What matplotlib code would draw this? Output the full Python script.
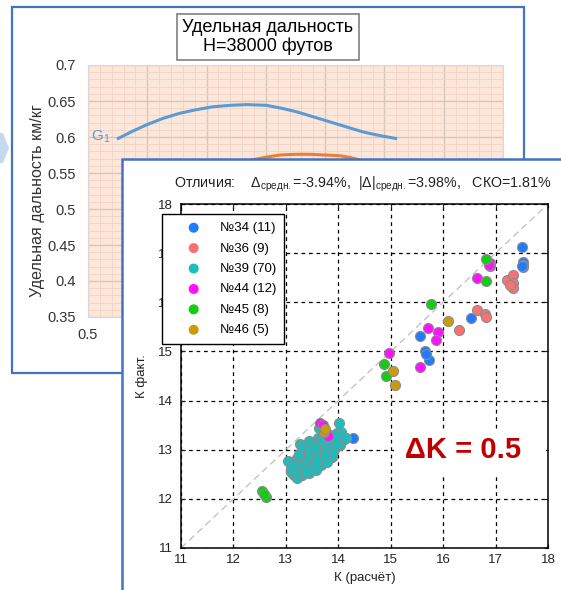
import numpy as np
import matplotlib
matplotlib.use('Agg')
import matplotlib.pyplot as plt
from matplotlib.patches import Rectangle, Polygon

plt.rcParams['font.family'] = ['Liberation Sans', 'DejaVu Sans']
plt.rcParams['mathtext.fontset'] = 'custom'
plt.rcParams['mathtext.rm'] = 'Liberation Sans'
plt.rcParams['mathtext.it'] = 'Liberation Sans:italic'
plt.rcParams['mathtext.bf'] = 'Liberation Sans:bold'

# back chart: specific range curves
g1_x = [0.551, 0.575, 0.599, 0.627, 0.655, 0.683, 0.711, 0.740, 0.768, 0.801,
        0.826, 0.852, 0.880, 0.908, 0.936, 0.964, 0.992, 1.019]
g1_y = [0.598, 0.608, 0.617, 0.626, 0.633, 0.638, 0.642, 0.644, 0.645, 0.644,
        0.640, 0.635, 0.628, 0.621, 0.614, 0.607, 0.602, 0.598]
g2_x = [0.776, 0.800, 0.824, 0.850, 0.874, 0.900, 0.925, 0.945, 0.959]
g2_y = [0.568, 0.572, 0.575, 0.576, 0.576, 0.575, 0.574, 0.571, 0.568]

# front chart: K calculated vs K actual
n34_x = [17.51, 17.53, 17.53, 17.52, 16.53, 15.55, 15.66, 15.73, 15.68, 14.28, 17.50]
n34_y = [17.12, 16.81, 16.71, 16.76, 15.69, 15.32, 15.00, 14.83, 14.95, 13.23, 16.74]
n36_x = [17.22, 17.33, 17.34, 17.33, 17.28, 16.65, 16.79, 16.82, 16.31]
n36_y = [16.46, 16.56, 16.40, 16.29, 16.35, 15.85, 15.77, 15.70, 15.44]
n39_x = [14.01, 13.97, 14.09, 13.91, 13.76, 13.61, 13.45, 13.27, 13.52, 13.70,
         13.82, 13.94, 13.39, 13.58, 13.73, 13.88, 13.21, 13.12, 13.33, 13.52,
         13.67, 13.79, 13.09, 13.24, 13.42, 13.58, 13.15, 13.30, 13.45, 13.21,
         13.88, 14.03, 13.64, 13.76, 13.48, 13.36, 13.64, 13.58, 13.82, 13.70,
         14.06, 14.15, 13.05, 13.10, 13.18, 13.28, 13.35, 13.40, 13.47, 13.55,
         13.62, 13.66, 13.72, 13.78, 13.85, 13.90, 13.98, 13.26, 13.32, 13.44,
         13.50, 13.60, 13.38, 13.17, 13.12, 13.56, 13.75, 13.84, 13.68, 13.95]
n39_y = [13.54, 13.34, 13.20, 13.17, 13.10, 13.24, 13.17, 13.12, 13.00, 13.03,
         12.97, 13.03, 12.90, 12.86, 12.83, 12.86, 12.83, 12.76, 12.76, 12.73,
         12.69, 12.76, 12.63, 12.63, 12.63, 12.59, 12.49, 12.49, 12.52, 12.42,
         13.10, 13.10, 13.44, 13.34, 13.07, 13.00, 12.97, 13.14, 13.24, 13.20,
         13.37, 13.24, 12.78, 12.55, 12.70, 12.56, 12.68, 12.80, 12.86, 12.95,
         12.90, 13.08, 12.95, 13.02, 13.15, 12.95, 13.12, 12.92, 13.05, 13.00,
         12.62, 12.75, 12.55, 12.58, 12.66, 13.05, 12.88, 13.30, 13.38, 13.28]
n44_x = [16.90, 16.90, 16.88, 16.64, 15.72, 15.91, 15.87, 15.56, 14.97, 13.65, 13.81, 13.70]
n44_y = [16.80, 16.73, 16.76, 16.50, 15.47, 15.40, 15.23, 14.69, 14.97, 13.54, 13.27, 13.50]
n45_x = [16.82, 16.81, 15.77, 14.87, 14.91, 12.54, 12.62, 12.58]
n45_y = [16.89, 16.43, 15.97, 14.74, 14.51, 12.15, 12.04, 12.10]
n46_x = [16.10, 15.05, 15.08, 13.72, 13.75]
n46_y = [15.61, 14.61, 14.31, 13.37, 13.42]

groups = [('№34 (11)', n34_x, n34_y, '#1f7bff'),
          ('№36 (9)', n36_x, n36_y, '#f87272'),
          ('№39 (70)', n39_x, n39_y, '#19bfbf'),
          ('№44 (12)', n44_x, n44_y, '#ff10ff'),
          ('№45 (8)', n45_x, n45_y, '#14cc14'),
          ('№46 (5)', n46_x, n46_y, '#cc9a0a')]

W, H = 561, 590
fig = plt.figure(figsize=(W / 100, H / 100), dpi=100)
fig.patch.set_facecolor('white')

def frac(l, t, r, b):
    return [l / W, 1 - b / H, (r - l) / W, (b - t) / H]

# back window + chevron
bg = fig.add_axes([0, 0, 1, 1], zorder=0)
bg.set_xlim(0, W)
bg.set_ylim(H, 0)
bg.axis('off')
bg.add_patch(Rectangle((12, 7), 512, 366, facecolor='white', edgecolor='#4472c4', lw=1.6))
bg.add_patch(Polygon([(0, 133), (3, 133), (9, 148), (3, 163), (0, 163)],
                     facecolor='#c5daf0', edgecolor='none'))

# back chart
axb = fig.add_axes(frac(88, 65, 503, 317), zorder=1)
axb.set_facecolor('#fde7da')
axb.set_xlim(0.5, 1.2)
axb.set_ylim(0.35, 0.7)
axb.set_xticks(np.arange(0.5, 1.21, 0.1))
axb.set_xticks(np.arange(0.5, 1.2, 0.02), minor=True)
axb.set_yticks(np.arange(0.35, 0.701, 0.05))
axb.set_yticks(np.arange(0.35, 0.7, 0.01), minor=True)
axb.set_xticklabels(['0.5'] + [''] * 7)
axb.set_yticklabels(['0.35', '0.4', '0.45', '0.5', '0.55', '0.6', '0.65', '0.7'])
axb.grid(which='minor', color='#f1d5c6', lw=0.6)
axb.grid(which='major', color='#d9c6bb', lw=1.0)
axb.tick_params(which='both', length=0, labelsize=10.5, colors='#333333')
axb.tick_params(axis='y', pad=9)
axb.tick_params(axis='x', pad=8)
for s in axb.spines.values():
    s.set_color('#e2d6d0')
axb.plot(g1_x, g1_y, color='#5b9bd5', lw=2.2)
axb.plot(g2_x, g2_y, color='#ed7d31', lw=2.2)
axb.text(0.537, 0.6, 'G$_1$', color='#5b9bd5', fontsize=11, ha='right', va='center')
axb.set_ylabel('Удельная дальность км/кг', fontsize=11.5, color='#333333')
axb.yaxis.set_label_coords(-0.103, 0.46)
fig.text(268 / W, 1 - 37 / H, 'Удельная дальность\nH=38000 футов', ha='center', va='center',
         fontsize=13, linespacing=1.05,
         bbox=dict(boxstyle='square,pad=0.3', facecolor='white', edgecolor='#808080', lw=1.2))

# front window
fg = fig.add_axes([0, 0, 1, 1], zorder=2)
fg.set_xlim(0, W)
fg.set_ylim(H, 0)
fg.axis('off')
fg.patch.set_alpha(0)
fg.add_patch(Rectangle((122, 159), 460, 450, facecolor='white', edgecolor='#4472c4', lw=1.8))

# front scatter chart
ax = fig.add_axes(frac(181, 204, 548, 548), zorder=3)
ax.set_xlim(11, 18)
ax.set_ylim(11, 18)
ax.set_xticks(range(11, 19))
ax.set_yticks(range(11, 19))
ax.grid(True, color='black', ls=(0, (3, 3)), lw=0.9)
ax.set_axisbelow(True)
ax.tick_params(direction='in', length=3, labelsize=9.5, colors='#222222', top=True, right=True)
ax.tick_params(axis='y', pad=6)
ax.tick_params(axis='x', pad=4)
for s in ax.spines.values():
    s.set_color('black')
    s.set_linewidth(1.1)
    s.set_zorder(5)
ax.plot([11, 18], [11, 18], color='#c4c4c4', lw=1.0, ls=(0, (5, 3)), zorder=1)
for label, xs, ys, c in groups:
    ax.scatter(xs, ys, s=52, color=c, edgecolors='#8c8c8c', linewidths=0.8, zorder=3, label=label)

ax.add_patch(Rectangle((15.06, 12.45), 2.9, 0.91, facecolor='white', edgecolor='none', zorder=2))
ax.text(16.38, 13.0, 'ΔK = 0.5', color='#c00000', fontsize=21, fontweight='bold',
        ha='center', va='center', zorder=4)

ax.set_xlabel('К (расчёт)', fontsize=9.5, color='#222222')
ax.xaxis.set_label_coords(0.5, -0.07)
ax.set_ylabel('К факт.', fontsize=9.5, color='#222222')
ax.yaxis.set_label_coords(-0.09, 0.5)

fig.text(363 / W, 1 - 184 / H,
         r'Отличия:    $\Delta_{\mathrm{средн.}}$=-3.94%,  $|\Delta|_{\mathrm{средн.}}$=3.98%,   СКО=1.81%',
         ha='center', va='center', fontsize=10.3, color='#222222')

leg = ax.legend(loc='upper left', bbox_to_anchor=(162 / W, 1 - 214 / H),
                bbox_transform=fig.transFigure, borderaxespad=0, fancybox=False,
                framealpha=1, edgecolor='black', fontsize=9.5, handlelength=3.6,
                handletextpad=0.2, borderpad=0.6, labelspacing=0.62, scatterpoints=1)
leg.get_frame().set_linewidth(1.0)
leg.set_zorder(10)
for h in leg.legend_handles:
    h.set_edgecolor('none')

fig.savefig('out.png', dpi=100)
